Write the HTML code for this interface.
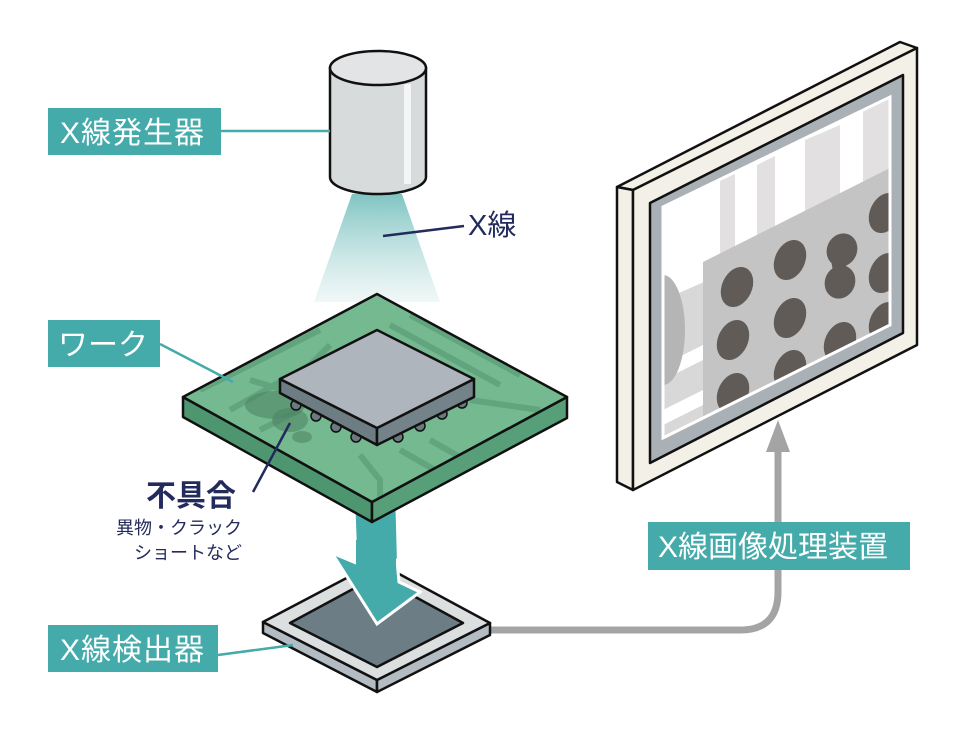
<!DOCTYPE html>
<html><head><meta charset="utf-8"><style>
html,body{margin:0;padding:0;background:#fff;}
svg{display:block;}
text{font-family:"Liberation Sans","Noto Sans CJK JP",sans-serif;}
</style></head><body>
<svg width="980" height="735" viewBox="0 0 980 735" xmlns="http://www.w3.org/2000/svg">
<defs>
<linearGradient id="beam" x1="0" y1="0" x2="0" y2="1">
<stop offset="0" stop-color="#7fc4c2"/><stop offset="1" stop-color="#e6f3f2" stop-opacity="0.6"/>
</linearGradient>
<clipPath id="scr"><polygon points="663,207 890,97 890,325 663,438"/></clipPath>
<clipPath id="brd"><polygon points="377,294 567,397 372,502 183,397"/></clipPath>
</defs>

<polygon points="352,194 402,194 440,302 314,302" fill="url(#beam)"/>
<path d="M330,68 L330,177 A48,17 0 0 0 426,177 L426,68 Z" fill="#d8dbdc" stroke="#111" stroke-width="2.5"/>
<rect x="404" y="84" width="7" height="100" fill="#f4f5f5"/>
<ellipse cx="378" cy="68" rx="48" ry="17" fill="#e2e4e5" stroke="#111" stroke-width="2.5"/>

<line x1="383" y1="236" x2="464" y2="226" stroke="#232b5c" stroke-width="2.5"/>
<text x="468" y="235" font-size="29" fill="#232b5c">X線</text>

<line x1="221" y1="131" x2="330" y2="131" stroke="#44abaa" stroke-width="2.5"/>
<rect x="48" y="108" width="173" height="47" fill="#44abaa"/>
<text x="60" y="143" font-size="30" fill="#fff" letter-spacing="1">X線発生器</text>

<polygon points="354,508 397,508 399,582 420,592 377,624 332,553 356,563" fill="#44abaa" stroke="#fff" stroke-width="3" stroke-linejoin="miter"/>

<polygon points="183,397 372,502 372,522 183,417" fill="#4e9670" stroke="#111" stroke-width="2.5" stroke-linejoin="round"/>
<polygon points="372,502 567,397 567,418 372,522" fill="#579f78" stroke="#111" stroke-width="2.5" stroke-linejoin="round"/>
<polygon points="377,294 567,397 372,502 183,397" fill="#75b990"/>
<g clip-path="url(#brd)" stroke="#62a47d" stroke-width="6" fill="none">
<path d="M200,390 L300,340 L320,330"/><path d="M230,410 L310,365 L330,345"/>
<path d="M260,430 L300,410"/><path d="M410,315 L520,375"/><path d="M390,325 L500,385"/>
<path d="M470,400 L540,410"/><path d="M430,440 L500,480"/><path d="M400,450 L470,490"/>
<path d="M360,455 L380,480 L380,510"/><path d="M250,380 L300,395"/><path d="M440,330 L480,310"/>
</g>
<ellipse cx="275" cy="405" rx="30" ry="14" fill="#4f8565" opacity="0.6"/>
<ellipse cx="290" cy="420" rx="18" ry="12" fill="#4f8565" opacity="0.6"/>
<ellipse cx="302" cy="437" rx="10" ry="6" fill="#4f8565" opacity="0.6"/>
<polygon points="377,294 567,397 372,502 183,397" fill="none" stroke="#111" stroke-width="2.5" stroke-linejoin="round"/>
<g fill="#6b7a80" stroke="#111" stroke-width="1.5">
<circle cx="296" cy="405" r="5"/><circle cx="316" cy="416" r="5"/><circle cx="336" cy="427" r="5"/><circle cx="356" cy="437" r="5"/>
<circle cx="398" cy="437" r="5"/><circle cx="420" cy="426" r="5"/><circle cx="442" cy="414" r="5"/><circle cx="462" cy="403" r="5"/>
</g>
<polygon points="280,379 377,428 377,445 280,393" fill="#6e7c83" stroke="#111" stroke-width="2.5" stroke-linejoin="round"/>
<polygon points="377,428 474,379 474,397 377,445" fill="#748389" stroke="#111" stroke-width="2.5" stroke-linejoin="round"/>
<polygon points="377,330 474,379 377,428 280,379" fill="#aeb5bc" stroke="#111" stroke-width="2.5" stroke-linejoin="round"/>

<line x1="160" y1="344" x2="233" y2="382" stroke="#44abaa" stroke-width="2.5"/>
<rect x="48" y="320" width="112" height="47" fill="#44abaa"/>
<text x="58" y="355" font-size="30" fill="#fff">ワーク</text>

<line x1="290" y1="423" x2="253" y2="492" stroke="#232b5c" stroke-width="2.5"/>
<text x="146" y="506" font-size="30" font-weight="bold" fill="#232b5c">不具合</text>
<text x="116" y="534" font-size="18" fill="#232b5c">異物・クラック</text>
<text x="134" y="559" font-size="18" fill="#232b5c">ショートなど</text>

<path d="M488,630 L740,630 Q778,630 778,592 L778,448" fill="none" stroke="#a4a4a4" stroke-width="7"/>
<polygon points="766,452 790,452 778,420" fill="#a4a4a4"/>

<polygon points="263,622 377,680 377,692 263,633" fill="#b3bbc3" stroke="#111" stroke-width="2.5" stroke-linejoin="round"/>
<polygon points="377,680 490,623 490,635 377,692" fill="#b3bbc3" stroke="#111" stroke-width="2.5" stroke-linejoin="round"/>
<polygon points="377,562 490,623 377,680 263,622" fill="#dcdfe0" stroke="#111" stroke-width="2.5" stroke-linejoin="round"/>
<polygon points="377,576 463,623 377,667 290,623" fill="#6c7d85" stroke="#111" stroke-width="2.5" stroke-linejoin="round"/>
<polygon points="354,560 356,563 332,553 377,624 420,592 399,582 397,560" fill="#44abaa" stroke="#fff" stroke-width="3"/>
<rect x="356" y="540" width="40" height="40" fill="#44abaa"/>

<line x1="218" y1="655" x2="293" y2="645" stroke="#44abaa" stroke-width="2.5"/>
<rect x="48" y="625" width="170" height="47" fill="#44abaa"/>
<text x="60" y="660" font-size="30" fill="#fff" letter-spacing="1">X線検出器</text>

<polygon points="617,187 900,42 917,48 633,190" fill="#f3f0e7" stroke="#111" stroke-width="2.5" stroke-linejoin="round"/>
<polygon points="617,187 633,190 633,490 617,482" fill="#f3f0e7" stroke="#111" stroke-width="2.5" stroke-linejoin="round"/>
<polygon points="633,190 917,48 917,345 633,490" fill="#f3f0e7" stroke="#111" stroke-width="2.5" stroke-linejoin="round"/>
<polygon points="650,203 903,75 903,333 650,463" fill="#a9b0b6" stroke="#111" stroke-width="2.5" stroke-linejoin="round"/>
<polygon points="663,207 890,97 890,325 663,438" fill="#fff"/>
<g clip-path="url(#scr)">
<polygon points="720,180 735,172 735,400 720,410" fill="#e2e0e0"/>
<polygon points="757,165 775,156 775,400 757,410" fill="#e2e0e0"/>
<polygon points="805,140 840,125 840,400 805,410" fill="#e2e0e0"/>
<polygon points="863,110 890,97 890,200 863,200" fill="#e2e0e0"/>
<polygon points="663,300 720,275 720,420 663,440" fill="#d9d8d8"/>
<polygon points="663,365 703,345 703,360 663,380" fill="#fff"/>
<polygon points="663,410 703,390 703,405 663,425" fill="#fff"/>
<ellipse cx="663" cy="330" rx="22" ry="55" fill="#b5b5b5"/>
<polygon points="703,262 890,168 890,330 703,430" fill="#c4c4c4"/>
<g fill="#615b58">
<ellipse cx="737" cy="287" rx="15" ry="21" transform="rotate(25 737 287)"/>
<ellipse cx="790" cy="260" rx="15" ry="21" transform="rotate(25 790 260)"/>
<ellipse cx="842" cy="250" rx="15" ry="17" transform="rotate(25 842 250)"/>
<ellipse cx="840" cy="282" rx="15" ry="17" transform="rotate(25 840 282)"/>
<rect x="832" y="250" width="14" height="30" transform="rotate(-10 839 265)"/>
<ellipse cx="733" cy="340" rx="15" ry="21" transform="rotate(25 733 340)"/>
<ellipse cx="790" cy="318" rx="15" ry="21" transform="rotate(25 790 318)"/>
<ellipse cx="840" cy="342" rx="15" ry="21" transform="rotate(25 840 342)"/>
<ellipse cx="733" cy="393" rx="15" ry="21" transform="rotate(25 733 393)"/>
<ellipse cx="790" cy="370" rx="15" ry="21" transform="rotate(25 790 370)"/>
<ellipse cx="885" cy="213" rx="15" ry="21" transform="rotate(25 885 213)"/>
<ellipse cx="885" cy="273" rx="15" ry="21" transform="rotate(25 885 273)"/>
<ellipse cx="885" cy="322" rx="15" ry="21" transform="rotate(25 885 322)"/>
</g>
</g>
<polygon points="663,207 890,97 890,325 663,438" fill="none" stroke="#fff" stroke-width="3"/>

<rect x="648" y="522" width="262" height="48" fill="#44abaa"/>
<text x="658" y="557" font-size="30" fill="#fff">X線画像処理装置</text>
</svg>
</body></html>
